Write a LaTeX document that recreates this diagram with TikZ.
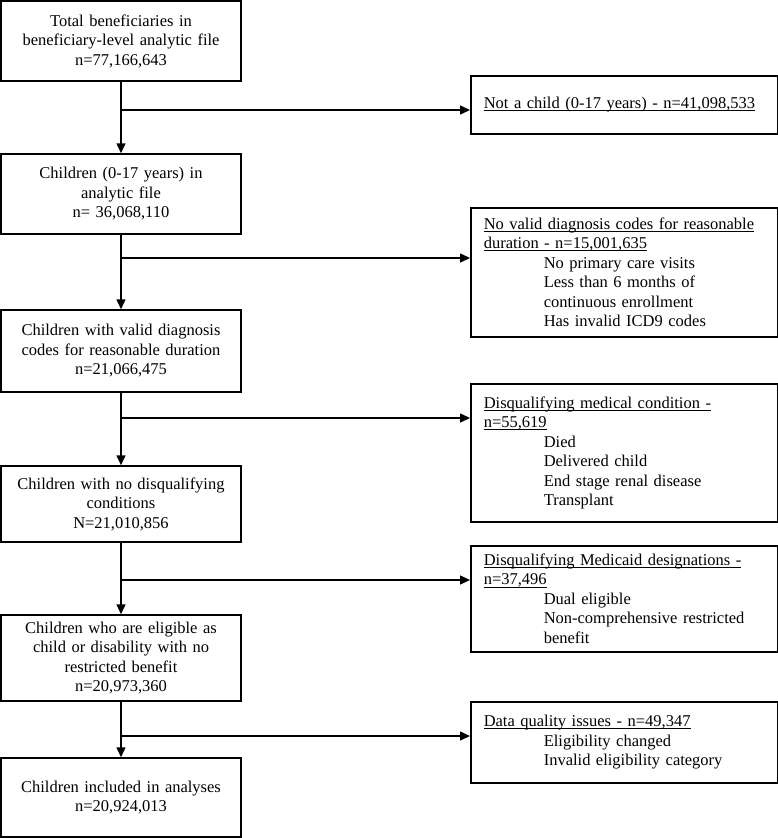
\documentclass[tikz,border=0pt]{standalone}
\usepackage{fontspec}
\setmainfont{Liberation Serif}
\usetikzlibrary{arrows.meta,positioning}

\newcommand{\itm}[1]{\hspace*{60pt}#1}
\newsavebox{\ulnbox}
\newcommand{\uln}[1]{\leavevmode\sbox{\ulnbox}{#1}\rlap{\rule[-2.4pt]{\wd\ulnbox}{0.8pt}}\usebox{\ulnbox}}

\begin{document}
\begin{tikzpicture}[x=1pt, y=-1pt,
    font=\fontsize{16.5}{19.5}\selectfont,
    stagebox/.style={draw, rectangle, line width=1.5pt, minimum width=240pt, text width=226pt, align=center, inner sep=6pt},
    exclbox/.style={draw, rectangle, line width=1.5pt, minimum width=307pt, text width=281pt, align=left, inner xsep=13pt, inner ysep=6pt, anchor=north west},
    flow/.style={-{Triangle[length=10pt, width=9pt]}, line width=1.5pt}]
    \useasboundingbox (0,0) rectangle (778,838);

    \node[stagebox, minimum height=80pt] (total) at (121,41) {Total beneficiaries in\\beneficiary-level analytic file\\n=77,166,643};
    \node[stagebox, minimum height=80pt] (children) at (121,194) {Children (0-17 years) in\\analytic file\\n= 36,068,110};
    \node[stagebox, minimum height=82pt] (validdx) at (121,351) {Children with valid diagnosis\\codes for reasonable duration\\n=21,066,475};
    \node[stagebox, minimum height=76pt] (nodisq) at (121,504) {Children with no disqualifying\\conditions\\N=21,010,856};
    \node[stagebox, minimum height=86pt] (eligible) at (121,658) {Children who are eligible as\\child or disability with no\\restricted benefit\\n=20,973,360};
    \node[stagebox, minimum height=79pt] (included) at (121,797.5) {Children included in analyses\\n=20,924,013};

    \node[exclbox, minimum height=58pt] (notchild) at (470,75) {\uln{Not a child (0-17 years) - n=41,098,533}};
    \node[exclbox, minimum height=129pt] (nodx) at (470,207) {\uln{No valid diagnosis codes for reasonable}\\\uln{duration - n=15,001,635}\\\itm{No primary care visits}\\\itm{Less than 6 months of}\\\itm{continuous enrollment}\\\itm{Has invalid ICD9 codes}};
    \node[exclbox, minimum height=138pt] (medical) at (470,383) {\uln{Disqualifying medical condition -}\\\uln{n=55,619}\\\itm{Died}\\\itm{Delivered child}\\\itm{End stage renal disease}\\\itm{Transplant}};
    \node[exclbox, minimum height=106pt] (medicaid) at (470,545) {\uln{Disqualifying Medicaid designations -}\\\uln{n=37,496}\\\itm{Dual eligible}\\\itm{Non-comprehensive restricted}\\\itm{benefit}};
    \node[exclbox, minimum height=81pt] (quality) at (470,701) {\uln{Data quality issues - n=49,347}\\\itm{Eligibility changed}\\\itm{Invalid eligibility category}};

    \coordinate (split1) at (121,110);
    \coordinate (split2) at (121,258);
    \coordinate (split3) at (121,418);
    \coordinate (split4) at (121,580);
    \coordinate (split5) at (121,736);

    \draw[flow] (total) -- (children);
    \draw[flow] (children) -- (validdx);
    \draw[flow] (validdx) -- (nodisq);
    \draw[flow] (nodisq) -- (eligible);
    \draw[flow] (eligible) -- (included);

    \draw[flow] (split1) -- (split1 -| notchild.west);
    \draw[flow] (split2) -- (split2 -| nodx.west);
    \draw[flow] (split3) -- (split3 -| medical.west);
    \draw[flow] (split4) -- (split4 -| medicaid.west);
    \draw[flow] (split5) -- (split5 -| quality.west);
\end{tikzpicture}
\end{document}
